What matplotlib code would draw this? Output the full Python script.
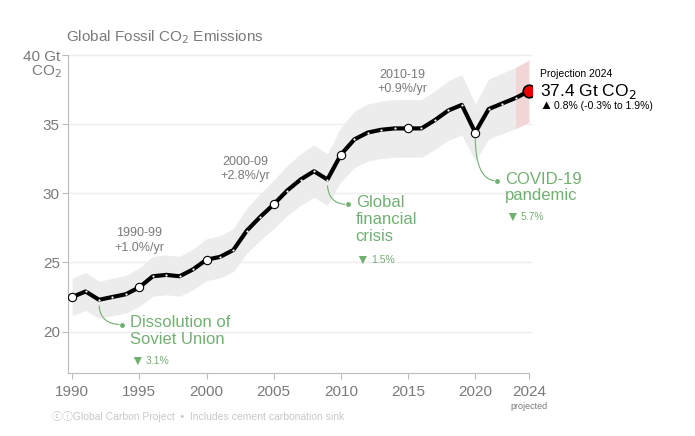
import matplotlib.pyplot as plt
import numpy as np

plt.rcParams['font.family'] = ['Liberation Sans', 'DejaVu Sans']

years = list(range(1990, 2025))
emissions = [22.5, 22.9, 22.3, 22.5, 22.7, 23.2, 24.0, 24.1, 24.0, 24.5,
             25.2, 25.4, 25.9, 27.3, 28.3, 29.2, 30.2, 31.0, 31.6, 31.0,
             32.8, 33.9, 34.4, 34.6, 34.7, 34.7, 34.7, 35.3, 36.0, 36.4,
             34.4, 36.1, 36.5, 36.9, 37.4]
band_pct = 0.06
labelled_years = [1990, 1995, 2000, 2005, 2010, 2015, 2020]
xtick_years = [1990, 1995, 2000, 2005, 2010, 2015, 2020, 2024]
ytick_values = [20, 25, 30, 35, 40]

periods = [(1995.0, 25.6, '1990-99\n+1.0%/yr'),
           (2002.9, 30.8, '2000-09\n+2.8%/yr'),
           (2014.6, 37.1, '2010-19\n+0.9%/yr')]

events = [
    # data year, dot x, dot y, title, drop
    (1992, 1993.7, 20.5, 'Dissolution of\nSoviet Union', '3.1%'),
    (2009, 2010.5, 29.2, 'Global\nfinancial\ncrisis', '1.5%'),
    (2020, 2021.6, 30.9, 'COVID-19\npandemic', '5.7%'),
]

grey = '#7a7a7a'
green = '#72b072'

x = np.array(years)
y = np.array(emissions)
lo = y * (1 - band_pct)
hi = y * (1 + band_pct)

fig = plt.figure(figsize=(6.95, 4.36), dpi=100)
ax = fig.add_axes([0.098, 0.1445, 0.667, 0.7385])
ax.set_xlim(1989.7, 2024.2)
ax.set_ylim(17, 40.3)

ax.fill_between(x[:-1], lo[:-1], hi[:-1], color='#ececec', lw=0, zorder=1)
ax.fill_between(x[-2:], lo[-2:], hi[-2:], color='#f2d5d5', lw=0, zorder=1)

for v in ytick_values:
    ax.axhline(v, color='#eeeeee', lw=1, zorder=0.5)

ax.plot(x, y, color='black', lw=3, zorder=3, solid_capstyle='round')
ax.plot(x[:-1], y[:-1], ls='none', marker='o', ms=1.6, mfc='white', mec='none', zorder=4)
sel = [years.index(yr) for yr in labelled_years]
ax.plot(x[sel], y[sel], ls='none', marker='o', ms=6, mfc='white', mec='black', mew=0.8, zorder=5)
ax.plot(x[-1], y[-1], ls='none', marker='o', ms=9, mfc='#ee0000', mec='black', mew=1.2, zorder=6)

for px, py, txt in periods:
    ax.text(px, py, txt, ha='center', va='bottom', fontsize=9, color=grey, linespacing=1.3)

for yr, dx, dy, title, drop in events:
    vy = emissions[years.index(yr)]
    ax.annotate('', xy=(yr, vy - 0.25), xytext=(dx, dy),
                arrowprops=dict(arrowstyle='-', color=green, lw=0.8,
                                connectionstyle='angle3,angleA=0,angleB=90'), zorder=2)
    ax.plot(dx, dy, marker='o', ms=2.5, color=green, zorder=2)
    ax.text(dx + 0.6, dy + 0.68, title, ha='left', va='top', fontsize=12, color=green,
            linespacing=1.15)
    nlines = title.count('\n') + 1
    ty = dy - 1.18 - 1.42 * (nlines - 1)
    ax.annotate('\u25BC', xy=(dx + 0.6, ty), va='center', ha='left', fontsize=10, color=green)
    ax.annotate(drop, xy=(dx + 0.6, ty), xytext=(11, 0), textcoords='offset points',
                va='center', ha='left', fontsize=7.5, color=green)

# projection annotation
ax.text(2024.8, 38.65, 'Projection 2024', fontsize=7.5, color='black', va='center', clip_on=False)
ax.text(2024.8, 37.4, '37.4 Gt CO$_2$', fontsize=12.5, color='black', va='center', clip_on=False)
ax.annotate('\u25B2', xy=(2024.8, 36.3), va='center', ha='left', fontsize=9.5, color='black',
            annotation_clip=False)
ax.annotate('0.8% (-0.3% to 1.9%)', xy=(2024.8, 36.3), xytext=(10.5, 0), textcoords='offset points',
            va='center', ha='left', fontsize=7.5, color='black', annotation_clip=False)

for s in ['top', 'right']:
    ax.spines[s].set_visible(False)
for s in ['left', 'bottom']:
    ax.spines[s].set_color('#bbbbbb')
    ax.spines[s].set_linewidth(0.8)
ax.spines['left'].set_bounds(17, 40)
ax.spines['bottom'].set_bounds(1989.7, 2024)

ax.set_xticks(xtick_years)
ax.set_xticklabels([str(v) for v in xtick_years])
ax.set_yticks(ytick_values)
ax.set_yticklabels(['20', '25', '30', '35', '40 Gt'])
ax.tick_params(axis='both', colors='#bbbbbb', labelcolor=grey, labelsize=11, length=4, width=0.8)
ax.tick_params(axis='x', pad=5)
ax.tick_params(axis='y', pad=2)
ax.text(1989.2, 38.8, 'CO$_2$', ha='right', va='center', fontsize=11, color=grey)
ax.text(2024, 14.6, 'projected', ha='center', va='center', fontsize=6.5, color=grey)

fig.text(0.095, 0.915, 'Global Fossil CO$_2$ Emissions', fontsize=11, color=grey, va='center')
fig.text(0.075, 0.044, '\u24D2\u24D8Global Carbon Project  \u2022  Includes cement carbonation sink',
         fontsize=7.5, color='#c8c8c8', va='center',
         family=['Liberation Sans', 'DejaVu Sans', 'Noto Sans CJK SC'])

fig.savefig('out.png', dpi=100)
